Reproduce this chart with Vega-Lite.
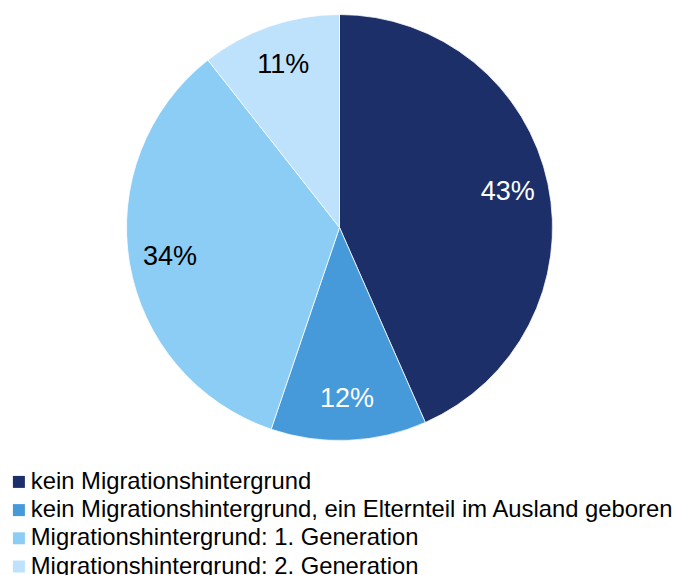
{
  "$schema": "https://vega.github.io/schema/vega-lite/v6.json",
  "width": 679,
  "height": 455,
  "padding": 0,
  "background": "white",
  "config": {"view": {"stroke": null}, "font": "Liberation Sans"},
  "data": {
    "values": [
      {"idx": 1, "category": "kein Migrationshintergrund", "value": 43.4, "label": "43%"},
      {"idx": 2, "category": "kein Migrationshintergrund, ein Elternteil im Ausland geboren", "value": 11.8, "label": "12%"},
      {"idx": 3, "category": "Migrationshintergrund: 1. Generation", "value": 34.2, "label": "34%"},
      {"idx": 4, "category": "Migrationshintergrund: 2. Generation", "value": 10.6, "label": "11%"}
    ]
  },
  "encoding": {
    "theta": {"field": "value", "type": "quantitative", "stack": true},
    "order": {"field": "idx", "type": "quantitative"}
  },
  "layer": [
    {
      "mark": {"type": "arc", "outerRadius": 213, "stroke": "#ffffff", "strokeWidth": 0.75},
      "encoding": {
        "color": {
          "field": "category",
          "type": "nominal",
          "sort": null,
          "scale": {
            "domain": [
              "kein Migrationshintergrund",
              "kein Migrationshintergrund, ein Elternteil im Ausland geboren",
              "Migrationshintergrund: 1. Generation",
              "Migrationshintergrund: 2. Generation"
            ],
            "range": ["#1c2f69", "#469ad9", "#8ccdf5", "#bee2fc"]
          },
          "legend": {
            "title": null,
            "orient": "none",
            "legendX": 7,
            "legendY": 470,
            "symbolType": "square",
            "symbolSize": 144,
            "symbolStrokeWidth": 0,
            "labelFontSize": 23.8,
            "labelFont": "Liberation Sans",
            "labelColor": "#000000",
            "labelOffset": 0,
            "rowPadding": 3.2,
            "labelLimit": 700,
            "padding": 0
          }
        }
      }
    },
    {
      "mark": {"type": "text", "radius": 172, "fontSize": 27, "font": "Liberation Sans"},
      "encoding": {
        "text": {"field": "label", "type": "nominal"},
        "color": {"condition": {"test": "datum.idx < 3", "value": "#ffffff"}, "value": "#000000"}
      }
    }
  ]
}
